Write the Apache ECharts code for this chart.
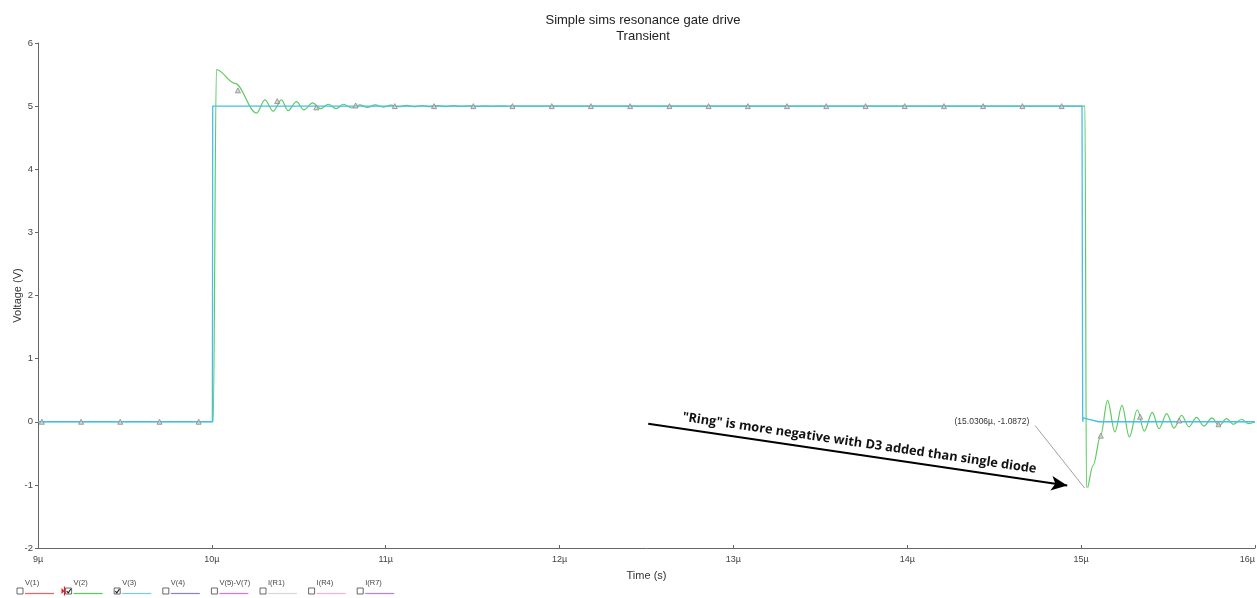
<!DOCTYPE html>
<html>
<head>
<meta charset="utf-8">
<script src="https://cdn.jsdelivr.net/npm/echarts@6/dist/echarts.min.js"></script>
<style>html,body{margin:0;padding:0;background:#fff}#c{width:1257px;height:598px}</style>
</head>
<body>
<div id="c"></div>
<script>
// ---- data (time in µs, voltage in V) ----
const v2Time = [9.0, 10.008, 10.026, 10.133, 10.257, 10.305, 10.353, 10.40, 10.438, 10.487, 10.529, 10.58, 10.626, 10.67, 10.715, 10.757, 10.805, 10.85, 10.895, 10.94, 10.985, 11.03, 11.075, 11.12, 11.165, 11.21, 11.255, 11.30, 11.345, 11.39, 11.435, 11.48, 11.525, 11.57, 11.615, 11.66, 11.705, 11.75, 11.80, 15.022, 15.0306, 15.069, 15.112, 15.152, 15.194, 15.235, 15.277, 15.323, 15.363, 15.409, 15.448, 15.492, 15.534, 15.578, 15.62, 15.664, 15.706, 15.752, 15.793, 15.837, 15.875, 15.923, 15.961, 16.0];
const v2Volt = [0, 0, 5.58, 5.36, 4.89, 5.10, 4.92, 5.10, 4.93, 5.07, 4.94, 5.05, 4.96, 5.03, 4.96, 5.03, 4.97, 5.02, 4.98, 5.02, 4.985, 5.015, 4.99, 5.012, 4.99, 5.01, 4.992, 5.008, 4.993, 5.007, 4.995, 5.005, 4.996, 5.004, 4.997, 5.003, 4.998, 5.002, 5.0, 5.0, -1.0872, -0.69, -0.22, 0.34, -0.16, 0.26, -0.24, 0.19, -0.15, 0.15, -0.11, 0.13, -0.10, 0.10, -0.08, 0.07, -0.07, 0.06, -0.06, 0.05, -0.04, 0.04, -0.03, 0.0];
const v3Time = [9.0, 10.003, 10.005, 10.012, 10.02, 15.005, 15.009, 15.012, 15.04, 15.1, 16.0];
const v3Volt = [0, 0, 5.0, 4.97, 5.0, 5.0, 0.0, 0.06, 0.04, 0.0, 0.0];
const markerTime = [9.022, 9.248, 9.473, 9.699, 9.924, 10.150, 10.376, 10.601, 10.827, 11.052, 11.278, 11.504, 11.729, 11.955, 12.180, 12.406, 12.632, 12.857, 13.083, 13.308, 13.534, 13.760, 13.985, 14.211, 14.436, 14.662, 14.888, 15.113, 15.339, 15.564, 15.790];
const markerVolt = [0, 0, 0, 0, 0, 5.25, 5.08, 4.98, 5.01, 5.0, 5.0, 5.0, 5.0, 5.0, 5.0, 5.0, 5.0, 5.0, 5.0, 5.0, 5.0, 5.0, 5.0, 5.0, 5.0, 5.0, 5.0, -0.22, 0.08, 0.02, -0.04];
const minPoint = [15.0306, -1.0872];
const legendNames = ['V(1)', 'V(2)', 'V(3)', 'V(4)', 'V(5)-V(7)', 'I(R1)', 'I(R4)', 'I(R7)'];
const legendColors = ['#f06060', '#5cc85c', '#7cc8f0', '#8080f0', '#e070e0', '#d8d8d8', '#f8b0d0', '#b080f0'];
const legendChecked = [false, true, true, false, false, false, false, false];
const xMin = 9, xMax = 16, yMin = -2, yMax = 6;

const zip = (a, b) => a.map((t, i) => [t, b[i]]);
const GREEN = '#5fcb5f', BLUE = '#45bdee';
const FONT = '"Liberation Sans", Arial, sans-serif';

const legendGraphics = [];
legendNames.forEach((n, i) => {
  const x = 17 + i * 48.6;
  legendGraphics.push({type: 'rect', shape: {x: x, y: 588, width: 6, height: 6}, style: {fill: '#fff', stroke: '#444', lineWidth: 0.8}});
  if (legendChecked[i]) {
    legendGraphics.push({type: 'polyline', shape: {points: [[x + 1.2, 591], [x + 2.6, 593], [x + 5.2, 589]]}, style: {stroke: '#222', lineWidth: 1.2, fill: null}});
  }
  legendGraphics.push({type: 'text', x: x + 8, y: 579, style: {text: n, font: '7.5px ' + FONT, fill: '#444'}});
  legendGraphics.push({type: 'line', shape: {x1: x + 8, y1: 593.5, x2: x + 37, y2: 593.5}, style: {stroke: legendColors[i], lineWidth: 1.2}});
});
// cursor marker next to V(2)
legendGraphics.push({type: 'polygon', shape: {points: [[61.5, 588], [64.5, 591], [61.5, 594]]}, style: {fill: '#e02020'}});
legendGraphics.push({type: 'line', shape: {x1: 64.5, y1: 586.5, x2: 64.5, y2: 595.5}, style: {stroke: '#e02020', lineWidth: 1.2}});

const chart = echarts.init(document.getElementById('c'), null, {renderer: 'canvas'});
chart.setOption({
  animation: false,
  backgroundColor: '#fff',
  title: {
    text: 'Simple sims resonance gate drive\nTransient',
    left: 638, top: 7, textAlign: 'center',
    textStyle: {fontFamily: FONT, fontSize: 13, fontWeight: 'normal', color: '#222', lineHeight: 16}
  },
  grid: {left: 38, right: 2, top: 43, bottom: 50, outerBoundsMode: 'none', containLabel: false},
  xAxis: {
    type: 'value', min: xMin, max: xMax, interval: 1,
    name: 'Time (s)', nameLocation: 'middle', nameGap: 22, nameMoveOverlap: false,
    nameTextStyle: {fontFamily: FONT, fontSize: 11, color: '#333'},
    axisLine: {onZero: false, lineStyle: {color: '#666', width: 1}},
    axisTick: {inside: true, length: 3, lineStyle: {color: '#666'}},
    axisLabel: {formatter: v => v + 'µ', fontFamily: FONT, fontSize: 9, color: '#444', margin: 7, alignMaxLabel: 'right'},
    splitLine: {show: false}
  },
  yAxis: {
    type: 'value', min: yMin, max: yMax, interval: 1,
    name: 'Voltage (V)', nameLocation: 'middle', nameGap: 15, nameMoveOverlap: false,
    nameTextStyle: {fontFamily: FONT, fontSize: 11, color: '#333'},
    axisLine: {show: true, onZero: false, lineStyle: {color: '#666', width: 1}},
    axisTick: {show: true, length: 3, lineStyle: {color: '#666'}},
    axisLabel: {fontFamily: FONT, fontSize: 9.5, color: '#444', margin: 5},
    splitLine: {show: false}
  },
  series: [
    {
      name: 'V(2)', type: 'line', data: zip(v2Time, v2Volt),
      showSymbol: false, smooth: 0.35, smoothMonotone: 'x',
      lineStyle: {color: GREEN, width: 1.2}, z: 2,
      markLine: {
        silent: true, symbol: ['none', 'none'],
        lineStyle: {color: '#888', width: 0.8, type: 'solid'},
        label: {show: false},
        data: [[{coord: [14.735, -0.06]}, {coord: minPoint}]]
      },
      markPoint: {
        silent: true,
        data: [
          {coord: minPoint, symbol: 'emptyCircle', symbolSize: 4, itemStyle: {color: '#fff', borderColor: '#666', borderWidth: 1}, label: {show: false}},
          {coord: [14.487, 0.0], symbol: 'circle', symbolSize: 0,
           label: {show: true, position: 'inside', formatter: '(15.0306µ, -1.0872)', fontFamily: FONT, fontSize: 8.5, color: '#333'}}
        ]
      }
    },
    {
      name: 'V(3)', type: 'line', data: zip(v3Time, v3Volt),
      showSymbol: false, lineStyle: {color: BLUE, width: 1.3}, z: 3,
      markLine: {
        silent: true, symbol: ['none', 'arrow'], symbolSize: [11, 16],
        lineStyle: {color: '#000', width: 2, type: 'solid'},
        itemStyle: {color: '#000'},
        label: {show: true, position: 'middle', distance: 5, formatter: '"Ring" is more negative with D3 added than single diode',
                fontFamily: '"Open Sans", "DejaVu Sans", sans-serif', fontWeight: 'bold', fontSize: 12.8, color: '#111'},
        data: [[{coord: [12.51, -0.03]}, {coord: [14.92, -1.01]}]]
      }
    },
    {
      name: 'markers', type: 'scatter', data: zip(markerTime, markerVolt),
      symbol: 'triangle', symbolSize: 5, z: 4,
      itemStyle: {color: '#d0d0d0', borderColor: '#888', borderWidth: 1}
    }
  ],
  graphic: legendGraphics
});
</script>
</body>
</html>
